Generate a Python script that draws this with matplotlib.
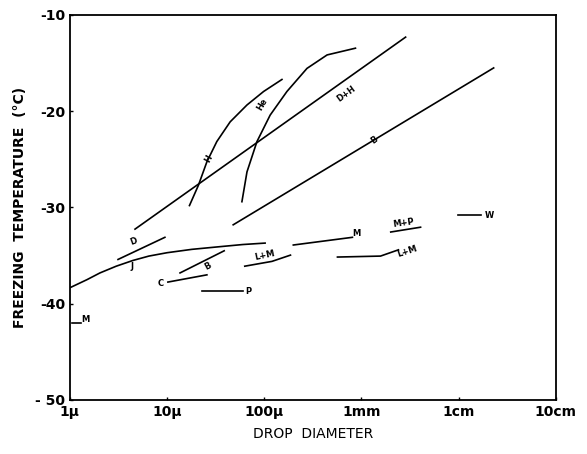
import numpy as np
import matplotlib.pyplot as plt

# drop diameter in micrometres, freezing temperature in deg C
h_x = [17.0, 21.0, 25.7, 32.5, 44.6, 66.4, 98.4, 152]
h_t = [-29.8, -27.7, -25.25, -23.15, -21.1, -19.35, -17.95, -16.7]

he_x = [58.9, 66.4, 84.1, 115, 171, 275, 443, 867]
he_t = [-29.4, -26.3, -23.15, -20.4, -17.95, -15.55, -14.15, -13.45]

dh_x = [4.68, 2845]
dh_t = [-32.25, -12.3]

b_x = [47.9, 22900]
b_t = [-31.8, -15.5]

d_x = [3.13, 9.5]
d_t = [-35.4, -33.1]

j_x = [1.02, 1.5, 2.04, 3.0, 4.47, 6.5, 10, 18, 32.7, 60, 102]
j_t = [-38.3, -37.5, -36.8, -36.1, -35.5, -35.05, -34.7, -34.35, -34.1, -33.85, -33.7]

m_x = [199, 807]
m_t = [-33.9, -33.1]

b2_x = [13.6, 38.7]
b2_t = [-36.8, -34.5]

c_x = [10.2, 25.7]
c_t = [-37.75, -37.0]

p_x = [22.9, 60.3]
p_t = [-38.7, -38.7]

lm_x = [63, 120, 186]
lm_t = [-36.1, -35.6, -34.95]

m1_x = [1.05, 1.3]
m1_t = [-42.0, -42.0]

lm2_x = [566, 1570, 2400]
lm2_t = [-35.15, -35.05, -34.4]

mp_x = [2000, 4055]
mp_t = [-32.55, -32.05]

w_x = [9770, 17000]
w_t = [-30.8, -30.8]

tick_pos = [1, 10, 100, 1000, 10000, 100000]
tick_lab = ['1\u03bc', '10\u03bc', '100\u03bc', '1mm', '1cm', '10cm']

fig = plt.figure(figsize=(5.87, 4.54), dpi=100)
ax = fig.add_axes([0.119, 0.119, 0.828, 0.848])

for xs, ts in [(h_x, h_t), (he_x, he_t), (dh_x, dh_t), (b_x, b_t), (d_x, d_t),
               (j_x, j_t), (m_x, m_t), (b2_x, b2_t), (c_x, c_t), (p_x, p_t),
               (lm_x, lm_t), (m1_x, m1_t), (lm2_x, lm2_t), (mp_x, mp_t), (w_x, w_t)]:
    ax.plot(xs, ts, color='black', lw=1.2, solid_joinstyle='round')

kw = dict(fontsize=6, fontweight='bold', ha='center', va='center')
ax.text(27.0, -24.9, 'H', rotation=62, **kw)
ax.text(95, -19.3, 'He', rotation=60, **kw)
ax.text(700, -18.2, 'D+H', rotation=36, **kw)
ax.text(1370, -23.0, 'B', rotation=36, **kw)
ax.text(4.5, -33.5, 'D', rotation=20, **kw)
ax.text(4.4, -36.1, 'J', **kw)
ax.text(880, -32.7, 'M', **kw)
ax.text(26, -36.1, 'B', rotation=28, **kw)
ax.text(8.7, -37.9, 'C', **kw)
ax.text(68, -38.7, 'P', **kw)
ax.text(100, -35.0, 'L+M', rotation=12, **kw)
ax.text(1.45, -41.6, 'M', **kw)
ax.text(2950, -34.6, 'L+M', rotation=18, **kw)
ax.text(2700, -31.6, 'M+P', rotation=8, **kw)
ax.text(20500, -30.8, 'W', **kw)

ax.set_xscale('log')
ax.set_xlim(1, 100000)
ax.set_ylim(-50, -10)
ax.set_xticks(tick_pos)
ax.set_xticklabels(tick_lab)
ax.minorticks_off()
ax.set_yticks([-50, -40, -30, -20, -10])
ax.set_yticklabels(['- 50', '-40', '-30', '-20', '-10'])
ax.tick_params(direction='in', length=2, labelsize=10, width=1)
for lab in ax.get_xticklabels() + ax.get_yticklabels():
    lab.set_fontweight('bold')
for s in ax.spines.values():
    s.set_linewidth(1.3)

ax.set_xlabel('DROP  DIAMETER', fontsize=10, labelpad=6)
ax.set_ylabel('FREEZING  TEMPERATURE  (\u00b0C)', fontsize=10, fontweight='bold', labelpad=6)

fig.savefig('out.png', dpi=100)
